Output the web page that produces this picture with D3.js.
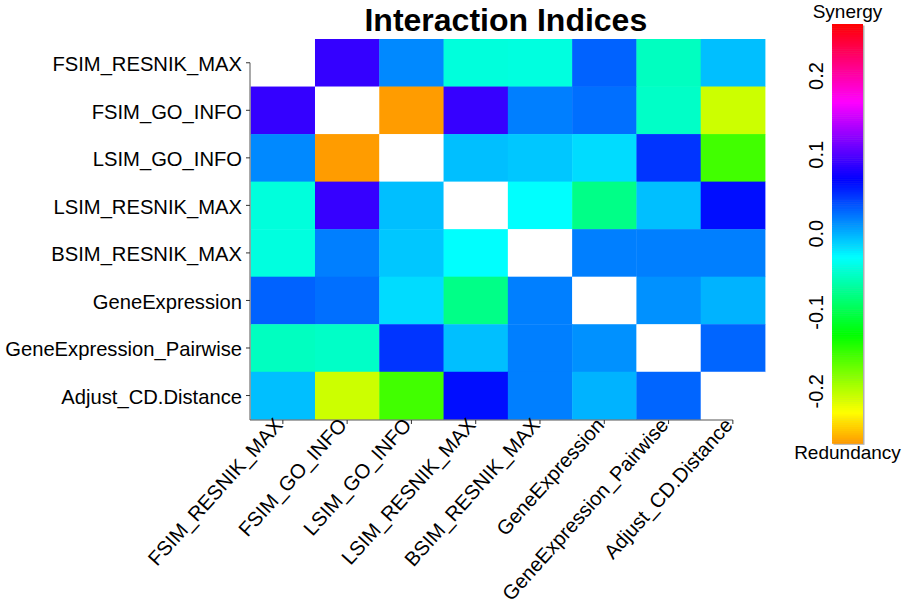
<!DOCTYPE html>
<html>
<head>
<meta charset="utf-8">
<script src="https://cdn.jsdelivr.net/npm/d3@7"></script>
<style>
  body { margin: 0; background: #fff; }
  text { font-family: Arial, "Liberation Sans", Helvetica, sans-serif; fill: #000; }
</style>
</head>
<body>
<div id="chart"></div>
<script>
// variable names, same order on both axes
var measures = ["FSIM_RESNIK_MAX", "FSIM_GO_INFO", "LSIM_GO_INFO", "LSIM_RESNIK_MAX",
                "BSIM_RESNIK_MAX", "GeneExpression", "GeneExpression_Pairwise", "Adjust_CD.Distance"];

// interaction index rows (null = diagonal, left blank)
var rowFsimResnik   = [null, 0.089, 0.016, -0.043, -0.042, 0.031, -0.054, -0.005];
var rowFsimGo       = [0.089, null, -0.265, 0.090, 0.020, 0.026, -0.051, -0.207];
var rowLsimGo       = [0.016, -0.265, null, -0.005, -0.008, -0.016, 0.049, -0.153];
var rowLsimResnik   = [-0.043, 0.090, -0.005, null, -0.030, -0.076, -0.005, 0.064];
var rowBsimResnik   = [-0.042, 0.020, -0.008, -0.030, null, 0.020, 0.020, 0.020];
var rowGeneExpr     = [0.031, 0.026, -0.016, -0.076, 0.020, null, 0.013, 0.000];
var rowGeneExprPair = [-0.054, -0.051, 0.049, -0.005, 0.020, 0.013, null, 0.030];
var rowAdjustCD     = [-0.005, -0.207, -0.153, 0.064, 0.020, 0.000, 0.030, null];

var rows = [rowFsimResnik, rowFsimGo, rowLsimGo, rowLsimResnik,
            rowBsimResnik, rowGeneExpr, rowGeneExprPair, rowAdjustCD];

// colour key
var keyTicks = [-0.2, -0.1, 0.0, 0.1, 0.2];
var keyLabels = ["-0.2", "-0.1", "0.0", "0.1", "0.2"];
var keyDomain = [-0.266, 0.266];

var width = 903, height = 609;

var svg = d3.select("#chart")
  .append("svg")
    .attr("width", width)
    .attr("height", height);

var x = d3.scaleBand().domain(measures).range([250.7, 765]);
var y = d3.scaleBand().domain(measures).range([39, 419.3]);

// rainbow hue, orange -> red
var hue = d3.scaleLinear().domain(keyDomain).range([36, 360]);
function colour(v) { return d3.hsl(hue(v), 1, 0.5).toString(); }

// cells
var cells = [];
rows.forEach(function(r, i) {
  r.forEach(function(v, j) {
    cells.push({ row: measures[i], col: measures[j], value: v });
  });
});

svg.append("g")
  .selectAll("rect")
  .data(cells)
  .enter()
  .append("rect")
    .attr("x", function(d) { return x(d.col); })
    .attr("y", function(d) { return y(d.row); })
    .attr("width", x.bandwidth() + 0.4)
    .attr("height", y.bandwidth() + 0.4)
    .attr("fill", function(d) { return d.value === null ? "#ffffff" : colour(d.value); });

// axes (lines only from first tick like base R)
var axisX0 = 250, axisY0 = 420;
var firstY = y(measures[0]) + y.bandwidth() / 2;
var lastX = x(measures[measures.length - 1]) + x.bandwidth() / 2;

svg.append("line")
  .attr("x1", axisX0).attr("x2", axisX0)
  .attr("y1", firstY).attr("y2", axisY0)
  .attr("stroke", "#555").attr("stroke-width", 1);
svg.append("line")
  .attr("x1", axisX0).attr("x2", lastX)
  .attr("y1", axisY0).attr("y2", axisY0)
  .attr("stroke", "#555").attr("stroke-width", 1);

// left ticks and labels
var yAxis = svg.append("g");
measures.forEach(function(m) {
  var cy = y(m) + y.bandwidth() / 2;
  yAxis.append("line")
    .attr("x1", axisX0 - 4).attr("x2", axisX0)
    .attr("y1", cy).attr("y2", cy)
    .attr("stroke", "#333");
  yAxis.append("text")
    .attr("x", 242)
    .attr("y", cy)
    .attr("dy", "0.41em")
    .attr("text-anchor", "end")
    .style("font-size", "20.2px")
    .text(m);
});

// bottom ticks and rotated labels
var xAxis = svg.append("g");
measures.forEach(function(m) {
  var cx = x(m) + x.bandwidth() / 2;
  xAxis.append("line")
    .attr("x1", cx).attr("x2", cx)
    .attr("y1", axisY0).attr("y2", axisY0 + 4)
    .attr("stroke", "#333");
  xAxis.append("text")
    .attr("transform", "translate(" + (cx + 1) + "," + (axisY0 + 6) + ") rotate(-48)")
    .attr("text-anchor", "end")
    .style("font-size", "20.2px")
    .text(m);
});

// title
svg.append("text")
  .attr("x", (250.7 + 765) / 2 - 2)
  .attr("y", 31)
  .attr("text-anchor", "middle")
  .style("font-size", "32px")
  .style("font-weight", "bold")
  .text("Interaction Indices");

// colour key
var keyX = 832, keyW = 31;
var ky = d3.scaleLinear().domain(keyDomain).range([443.3, 24]);
var steps = d3.range(0, 200);
var stepSize = (keyDomain[1] - keyDomain[0]) / steps.length;

svg.append("rect")
  .attr("x", keyX + 1.5).attr("y", ky(keyDomain[1]) + 1.5)
  .attr("width", keyW).attr("height", ky(keyDomain[0]) - ky(keyDomain[1]))
  .attr("fill", "#b0b0b0");

svg.append("g")
  .selectAll("rect")
  .data(steps)
  .enter()
  .append("rect")
    .attr("x", keyX)
    .attr("width", keyW)
    .attr("y", function(i) { return ky(keyDomain[0] + (i + 1) * stepSize); })
    .attr("height", function(i) { return ky(keyDomain[0] + i * stepSize) - ky(keyDomain[0] + (i + 1) * stepSize) + 0.5; })
    .attr("fill", function(i) { return colour(keyDomain[0] + (i + 0.5) * stepSize); });

keyTicks.forEach(function(t, i) {
  svg.append("text")
    .attr("transform", "translate(823," + ky(t) + ") rotate(-90)")
    .attr("text-anchor", "middle")
    .style("font-size", "20px")
    .text(keyLabels[i]);
});

svg.append("text")
  .attr("x", keyX + keyW / 2)
  .attr("y", 18)
  .attr("text-anchor", "middle")
  .style("font-size", "19px")
  .text("Synergy");

svg.append("text")
  .attr("x", keyX + keyW / 2)
  .attr("y", 459)
  .attr("text-anchor", "middle")
  .style("font-size", "19px")
  .text("Redundancy");
</script>
</body>
</html>
